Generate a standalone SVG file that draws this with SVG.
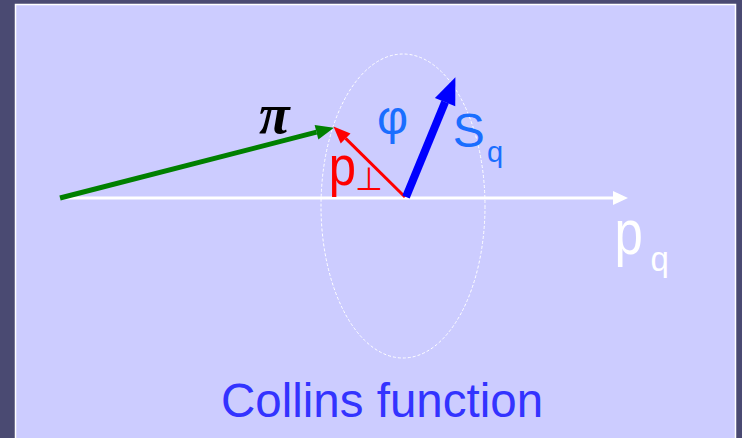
<svg xmlns="http://www.w3.org/2000/svg" width="742" height="438" viewBox="0 0 742 438">
<defs>
<style>
.t{font-family:"Liberation Sans",Arial,sans-serif}
.pi{font-family:"Liberation Serif","Times New Roman",serif;font-style:italic;font-weight:bold}
.blue{fill:#1a6eff}
</style>
<marker id="mw" markerUnits="userSpaceOnUse" orient="auto" refX="0" refY="0" markerWidth="20" markerHeight="20" overflow="visible"><path d="M0,-7L15,0L0,7z" fill="#ffffff"/></marker>
<marker id="mg" markerUnits="userSpaceOnUse" orient="auto" refX="0" refY="0" markerWidth="20" markerHeight="20" overflow="visible"><path d="M0,-7.5L18,0L0,7.5z" fill="#008000"/></marker>
<marker id="mr" markerUnits="userSpaceOnUse" orient="auto" refX="0" refY="0" markerWidth="20" markerHeight="20" overflow="visible"><path d="M0,-7L17,0L0,7z" fill="#ff0000"/></marker>
<marker id="mb" markerUnits="userSpaceOnUse" orient="auto" refX="0" refY="0" markerWidth="30" markerHeight="30" overflow="visible"><path d="M0,-11L27,0L0,11z" fill="#0000ff"/></marker>
</defs>
<rect x="0" y="0" width="742" height="438" fill="#4a4a72"/>
<rect x="15.5" y="4.5" width="720" height="440" fill="#ccccff" stroke="#ffffff" stroke-width="1.5"/>
<g id="ellipse"><ellipse cx="403" cy="206" rx="82" ry="152" fill="none" stroke="#ffffff" stroke-width="1" stroke-dasharray="3,2"/></g>
<g id="connectors">
<line x1="60" y1="198" x2="613" y2="198" stroke="#ffffff" stroke-width="3" marker-end="url(#mw)"/>
<line x1="60" y1="198" x2="316.5" y2="132.2" stroke="#008000" stroke-width="5" marker-end="url(#mg)"/>
<line x1="405" y1="197" x2="345.6" y2="138.4" stroke="#ff0000" stroke-width="3" marker-end="url(#mr)"/>
<line x1="406" y1="197" x2="445.1" y2="102.1" stroke="#0000ff" stroke-width="8" marker-end="url(#mb)"/>
</g>
<g id="labels">
<text class="pi" x="259" y="133" font-size="56" fill="#000000">π</text>
<text class="t blue" x="377" y="134" font-size="48">φ</text>
<text class="t blue" x="452.7" y="147" font-size="48">S</text>
<text class="t blue" x="487" y="162" font-size="29">q</text>
<text class="t" transform="translate(328.8,185) scale(1,1.15)" font-size="49" fill="#ff0000">p</text>
<text class="t" x="355" y="190" font-size="32" fill="#ff0000">⊥</text>
<text class="t" transform="translate(614.6,254) scale(1,1.23)" font-size="51" fill="#ffffff">p</text>
<text class="t" transform="translate(650.5,271) scale(1,1.05)" font-size="33" fill="#ffffff">q</text>
<text class="t" x="382" y="417" font-size="47.5" fill="#3333ff" text-anchor="middle">Collins function</text>
</g>
</svg>
